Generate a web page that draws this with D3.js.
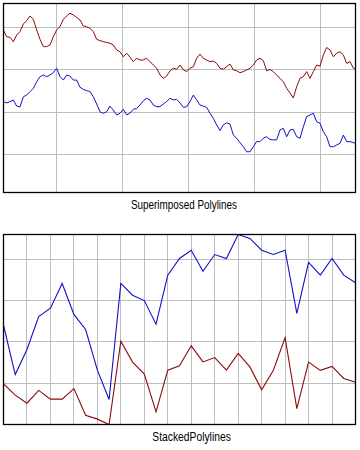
<!DOCTYPE html>
<html>
<head>
<meta charset="utf-8">
<script src="https://cdn.jsdelivr.net/npm/d3@7"></script>
<style>
  html, body { margin: 0; padding: 0; background: #fff; }
  svg { display: block; }
  text { font-family: "Liberation Sans", Arial, sans-serif; }
</style>
</head>
<body>
<svg id="chart" width="360" height="450"></svg>
<script>
// ---------- Data: Superimposed Polylines ----------
const superRed = [
  78.8, 75.6, 75.3, 73.2, 76.4, 78.0, 81.6, 83.2, 85.4, 83.8,
  78.8, 74.4, 70.9, 70.9, 71.7, 75.6, 78.8, 80.3, 83.8, 85.4,
  86.7, 85.9, 84.7, 83.5, 80.7, 80.3, 79.6,
  78.0, 74.4, 73.7, 73.3, 72.9, 72.5, 71.7, 69.3, 68.5, 66.1,
  67.8, 65.9, 63.8, 65.4, 64.6, 64.6, 65.4, 63.8, 62.2, 60.7,
  57.5, 55.9, 57.0, 59.5, 60.7, 60.2, 62.2,
  59.9, 59.1, 60.7, 61.4, 65.4, 67.4, 65.4, 64.6, 63.8, 64.1,
  63.0, 60.7, 60.2, 61.4, 62.7, 59.9, 59.5, 58.6, 59.1, 59.9,
  60.7, 62.2, 64.6, 65.4, 64.3, 59.5, 60.1,
  59.1, 57.5, 55.9, 54.3, 51.2, 49.0, 46.6, 52.0, 55.9, 56.7,
  59.1, 55.9, 59.1, 62.2, 61.7, 67.0, 70.5, 69.3, 66.1, 67.8,
  68.5, 67.0, 63.0, 63.8, 60.8, 59.9
];
const superBlue = [
  44.9, 44.3, 44.9, 45.7, 42.8, 42.4, 47.2, 48.0, 49.6, 51.2,
  54.3, 56.7, 57.5, 56.7, 57.5, 58.6, 60.7, 56.7, 55.1, 57.5,
  57.0, 55.1, 55.1, 51.7, 50.7, 50.1, 49.7,
  47.2, 43.8, 40.1, 39.4, 40.1, 42.8, 40.9, 38.6, 39.4, 41.3,
  38.6, 39.5, 41.3, 41.7, 43.3, 45.3, 46.5, 45.7, 43.3, 42.5,
  42.5, 43.8, 44.9, 46.5, 45.7, 46.0, 44.3,
  42.2, 42.5, 44.9, 48.0, 45.7, 43.3, 42.8, 42.2, 39.4, 37.0,
  33.9, 31.2, 33.9, 34.9, 34.3, 29.1, 27.6, 25.5, 23.6, 21.2,
  21.2, 23.6, 26.0, 26.0, 27.6, 28.3, 27.0,
  26.8, 26.8, 31.5, 32.3, 28.3, 31.5, 31.8, 28.3, 27.6, 33.0,
  37.8, 38.6, 39.4, 35.4, 34.7, 30.7, 28.3, 23.6, 23.6, 24.4,
  25.2, 29.1, 26.0, 26.0, 25.5, 25.2
];
const superYTicks = [20, 40, 60, 80];
const superXTicks = [15.9, 35.7, 55.5, 75.3, 95.1];

// ---------- Data: Stacked Polylines ----------
const stackLower = [
  19.7, 14.2, 10.3, 16.5, 12.3, 12.3, 17.4, 4.5, 2.6, 0.0,
  40.3, 30.2, 24.4, 6.1, 26.3, 28.4, 38.1, 30.3, 32.4, 26.3,
  34.4, 27.9, 16.8, 26.3, 42.1, 7.7, 30.2, 26.2, 28.1, 22.3, 20.5
];
const stackUpper = [
  28.4, 10.0, 26.0, 35.8, 44.0, 56.0, 35.9, 41.5, 23.7, 12.1,
  28.0, 32.4, 35.6, 42.5, 46.0, 52.0, 46.3, 43.9, 49.9, 54.1,
  57.6, 62.2, 67.6, 56.0, 42.3, 46.1, 48.3, 46.1, 52.3, 50.0, 48.1
];
const stackYTicks = [20, 40, 60, 80];
const stackXTicks = [2, 4, 6, 8, 10, 12, 14, 16, 18, 20, 22, 24, 26, 28];

const titles = ["Superimposed Polylines", "StackedPolylines"];

const RED = "#8b0a0a";
const BLUE = "#1010c8";
const GRID = "#bdbdbd";

const svg = d3.select("#chart");

function panel(opts) {
  const g = svg.append("g");
  const { x0, y0, w, h, xScale, yScale, xTicks, yTicks, id } = opts;
  g.append("clipPath").attr("id", id).append("rect")
    .attr("x", x0).attr("y", y0).attr("width", w).attr("height", h);
  g.append("g").selectAll("line.v").data(xTicks).join("line")
    .attr("x1", d => xScale(d)).attr("x2", d => xScale(d))
    .attr("y1", y0).attr("y2", y0 + h)
    .attr("stroke", GRID).attr("stroke-width", 1).attr("shape-rendering", "crispEdges");
  g.append("g").selectAll("line.h").data(yTicks).join("line")
    .attr("x1", x0).attr("x2", x0 + w)
    .attr("y1", d => yScale(d)).attr("y2", d => yScale(d))
    .attr("stroke", GRID).attr("stroke-width", 1).attr("shape-rendering", "crispEdges");
  const lines = g.append("g").attr("clip-path", `url(#${id})`);
  g.append("rect").attr("x", x0).attr("y", y0).attr("width", w).attr("height", h)
    .attr("fill", "none").attr("stroke", "#000").attr("stroke-width", 1.3);
  return lines;
}

// ---- Top panel ----
{
  const x0 = 3.5, y0 = 3.5, w = 352, h = 189;
  const xScale = d3.scaleLinear().domain([0, superRed.length - 1]).range([3.33, 356.67]);
  const yScale = d3.scaleLinear().domain([1.94, 91.3]).range([y0 + h, y0]);
  const lines = panel({ x0, y0, w, h, xScale, yScale, xTicks: superXTicks, yTicks: superYTicks, id: "clipTop" });
  const line = d3.line().x((d, i) => xScale(i)).y(d => yScale(d));
  lines.append("path").datum(superRed).attr("d", line)
    .attr("fill", "none").attr("stroke", RED).attr("stroke-width", 1).attr("stroke-linejoin", "miter");
  lines.append("path").datum(superBlue).attr("d", line)
    .attr("fill", "none").attr("stroke", BLUE).attr("stroke-width", 1).attr("stroke-linejoin", "miter");
  svg.append("text").attr("x", 131).attr("y", 209)
    .attr("font-size", 12).attr("fill", "#000")
    .attr("textLength", 106).attr("lengthAdjust", "spacingAndGlyphs")
    .text(titles[0]);
}

// ---- Bottom panel ----
{
  const x0 = 3.5, y0 = 234.5, w = 352, h = 190;
  const rows = stackLower.map((v, i) => ({ i, lower: v, upper: stackUpper[i] }));
  const stacked = d3.stack().keys(["lower", "upper"])(rows);
  const xScale = d3.scaleLinear().domain([0, rows.length - 1]).range([3.5, 355.5]);
  const yMax = d3.max(stacked[1], d => d[1]);
  const yScale = d3.scaleLinear().domain([0, yMax]).range([y0 + h, y0]);
  const lines = panel({ x0, y0, w, h, xScale, yScale, xTicks: stackXTicks, yTicks: stackYTicks, id: "clipBot" });
  const line = d3.line().x((d, i) => xScale(i)).y(d => yScale(d[1]));
  const colors = [RED, BLUE];
  stacked.forEach((s, k) => {
    lines.append("path").datum(s).attr("d", line)
      .attr("fill", "none").attr("stroke", colors[k]).attr("stroke-width", 1.1).attr("stroke-linejoin", "miter");
  });
  svg.append("text").attr("x", 152.3).attr("y", 441)
    .attr("font-size", 12).attr("fill", "#000")
    .attr("textLength", 78.5).attr("lengthAdjust", "spacingAndGlyphs")
    .text(titles[1]);
}
</script>
</body>
</html>
